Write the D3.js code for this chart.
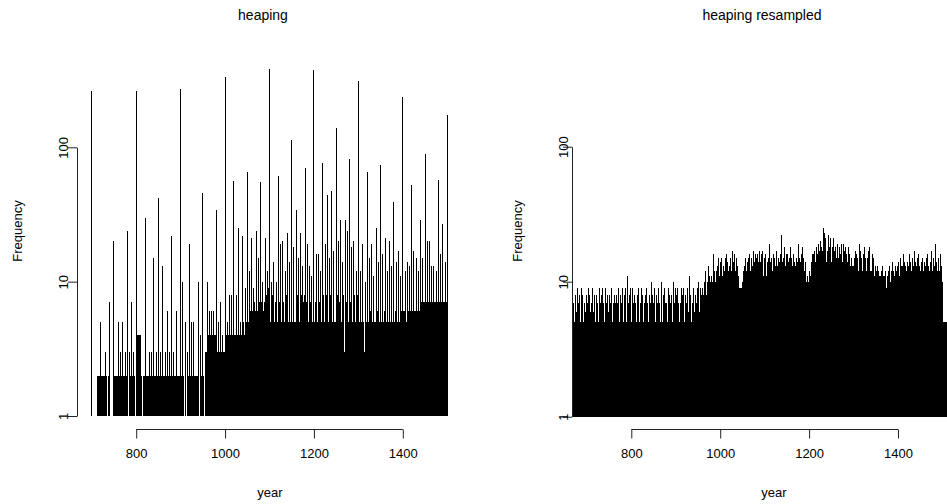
<!DOCTYPE html>
<html><head><meta charset="utf-8">
<script src="https://cdn.jsdelivr.net/npm/d3@7"></script>
<style>
html,body{margin:0;padding:0;background:#fff;}
text{font-family:"Liberation Sans",Arial,Helvetica,sans-serif;fill:#000;}
</style></head>
<body>
<svg id="chart" width="947" height="504"></svg>
<script>
// ---------------- DATA ----------------
const heapStartYear = 700;
const heapCounts = [
264,0,0,0,0,0,0,0,0,0,
0,0,2,2,1,1,2,2,0,2,
5,2,0,0,2,2,2,2,1,2,
3,2,2,2,2,1,1,2,2,2,
7,0,0,0,0,0,0,0,0,2,
20,2,2,2,1,1,2,2,2,2,
5,2,2,1,1,3,2,2,2,2,
5,2,2,2,1,3,2,1,1,2,
24,2,1,1,2,3,2,2,2,1,
7,1,2,2,2,3,2,2,1,1,
264,4,4,3,4,4,3,4,4,2,
4,2,2,2,1,1,2,2,2,2,
30,2,2,2,2,2,1,1,2,2,
3,2,2,1,1,3,2,2,2,1,
15,1,2,2,2,3,2,2,1,1,
42,2,2,1,1,3,2,2,2,2,
13,2,2,2,2,3,1,1,2,2,
6,2,2,1,1,3,2,2,2,1,
22,1,2,2,2,3,2,1,1,2,
6,2,2,2,1,1,2,2,2,2,
271,2,2,2,2,10,2,2,1,1,
5,2,2,1,1,3,2,2,2,2,
19,2,2,2,2,5,2,1,1,2,
5,2,2,2,1,1,2,2,2,2,
10,2,1,1,2,4,2,2,2,2,
46,2,2,1,1,3,2,3,3,3,
10,4,3,4,3,6,4,3,4,3,
6,4,3,4,3,6,4,3,4,4,
34,4,3,3,3,5,3,3,2,3,
7,3,2,3,3,4,3,2,3,3,
333,4,3,4,4,5,3,4,2,4,
8,4,3,4,5,8,4,3,4,4,
56,3,4,4,3,8,4,4,3,4,
25,4,4,3,5,5,4,4,3,5,
22,4,5,4,4,9,5,4,5,4,
66,5,4,5,5,12,5,6,5,6,
21,5,6,5,6,9,5,7,6,5,
24,6,5,6,6,15,6,5,7,6,
55,6,5,7,6,10,6,6,5,7,
21,7,8,6,8,12,7,9,8,7,
384,5,4,5,7,10,8,5,3,3,
14,4,5,4,7,10,8,5,4,5,
61,4,5,7,8,19,5,4,5,8,
20,7,5,4,5,12,4,7,8,4,
23,5,4,5,7,14,8,5,4,5,
113,5,4,7,8,18,4,5,4,5,
34,7,8,5,4,15,5,4,5,7,
23,8,5,4,5,13,4,7,8,5,
70,4,5,4,7,19,8,5,3,3,
13,5,4,7,8,11,4,5,4,5,
377,5,4,5,7,16,8,5,4,5,
16,4,5,7,8,12,5,4,5,4,
77,7,8,5,4,19,4,5,7,8,
44,5,4,5,4,15,7,8,5,4,
47,5,4,7,8,17,5,4,5,4,
139,7,8,5,4,20,5,4,7,8,
29,5,4,5,7,14,8,5,3,3,
29,4,5,4,7,24,8,5,4,5,
82,5,4,7,8,18,4,5,4,5,
20,7,8,5,4,12,5,4,7,8,
311,5,4,5,4,12,5,4,5,4,
19,4,5,3,3,10,5,4,5,4,
65,5,4,5,4,15,4,5,6,4,
19,4,5,4,5,11,5,4,5,4,
25,5,4,6,4,14,4,5,4,5,
74,4,5,4,5,16,5,4,6,4,
21,5,4,5,4,12,4,5,2,2,
20,4,5,4,5,13,5,4,5,4,
39,5,4,6,4,14,5,4,5,5,
17,4,5,4,5,11,5,4,6,5,
236,5,6,5,6,12,5,6,5,4,
14,5,6,5,4,13,6,5,6,5,
52,6,5,6,5,17,5,6,5,6,
15,5,6,5,6,12,6,5,6,6,
29,7,6,7,6,15,7,6,7,6,
89,6,7,6,7,20,6,7,6,7,
20,7,6,7,6,13,7,6,7,6,
13,6,7,6,7,12,6,7,6,7,
57,7,6,7,6,16,7,6,7,6,
27,6,7,6,7,14,6,7,6,7,
174
];

const resampledStartYear = 667;
const resampledCounts = [
5,4,6,
4,7,5,4,8,5,4,6,3,9,
5,4,7,5,8,4,5,9,4,6,
4,8,5,4,7,5,3,6,5,8,
5,7,4,5,9,4,5,8,4,6,
7,4,5,9,4,6,5,8,4,5,
5,8,4,7,4,6,5,4,9,5,
4,7,5,4,8,9,4,5,7,4,
5,4,9,5,4,7,5,8,4,6,
8,5,4,7,5,4,9,5,4,7,
5,4,8,5,7,4,6,8,5,4,
7,5,9,4,5,8,4,7,5,4,
6,9,5,4,8,5,4,7,9,5,
4,11,5,7,4,5,8,4,9,6,
5,4,9,5,7,4,5,8,5,4,
7,5,4,8,5,6,4,9,5,4,
7,4,5,9,4,5,8,5,4,7,
5,4,8,5,9,4,5,7,5,4,
8,5,4,7,5,10,4,5,8,5,
4,7,5,9,4,5,8,5,4,7,
5,9,4,5,7,5,4,8,5,10,
4,5,8,5,4,9,5,7,4,5,
7,4,5,9,5,4,8,5,7,4,
5,8,4,5,10,5,4,7,5,9,
4,5,8,5,9,4,5,7,5,4,
7,5,4,9,5,8,4,5,9,5,
4,8,5,3,3,7,5,9,4,6,
5,4,11,5,8,4,5,7,5,4,
9,5,4,6,8,5,7,4,9,5,
6,8,10,6,5,7,9,6,8,6,
7,9,6,8,10,7,6,9,12,7,
8,10,7,9,13,8,7,11,8,10,
9,11,8,10,9,16,9,12,8,9,
10,12,9,11,13,10,9,15,10,11,
10,14,11,10,15,11,10,13,12,10,
12,9,15,11,10,16,11,14,10,12,
13,10,11,15,10,12,10,17,11,13,
10,14,11,16,10,12,15,11,10,13,
12,11,10,9,8,7,9,7,8,9,
8,10,9,12,13,10,14,11,15,12,
11,14,10,15,11,13,10,16,11,12,
10,15,11,13,17,11,10,14,11,16,
12,10,15,10,13,16,11,14,10,17,
11,14,10,16,11,13,17,11,10,15,
13,10,12,16,11,10,14,13,11,15,
10,13,19,11,14,10,15,11,12,16,
11,14,10,15,11,13,11,17,12,10,
13,10,15,11,14,16,11,22,12,10,
10,14,11,15,18,12,10,13,10,16,
11,13,16,11,14,10,15,11,18,12,
10,15,10,13,11,16,12,10,14,10,
13,11,15,12,10,14,19,11,13,15,
11,14,10,16,11,13,18,11,15,12,
10,13,11,14,10,10,9,11,9,10,
10,12,10,11,9,13,14,12,16,13,
12,16,13,17,12,14,18,12,15,13,
16,12,19,13,17,12,20,14,13,18,
13,17,25,14,16,23,13,18,21,14,
13,17,14,22,13,18,15,13,17,21,
14,13,18,15,13,21,14,17,13,15,
18,13,15,19,13,16,15,13,18,14,
13,16,14,13,19,14,13,19,15,13,
17,13,14,18,13,16,14,13,18,14,
13,16,15,13,12,15,12,13,11,9,
11,13,15,11,17,12,11,16,12,11,
15,12,11,19,12,11,17,12,15,11,
12,11,16,12,11,18,12,11,15,12,
11,15,12,11,17,12,11,18,12,11,
12,11,16,12,11,15,12,10,11,13,
10,12,9,11,13,9,10,12,9,11,
9,11,12,9,10,13,9,11,8,11,
10,8,12,11,9,6,11,9,12,10,
9,11,13,9,10,12,9,14,10,9,
10,12,9,11,13,10,9,12,10,13,
10,12,14,10,11,15,10,13,11,10,
13,11,16,10,12,14,11,13,10,12,
11,14,10,13,11,12,16,11,14,10,
12,11,15,10,13,11,17,12,11,14,
11,13,10,15,11,12,11,16,13,11,
12,11,14,12,10,13,15,11,12,14,
11,13,10,15,11,12,16,11,13,10,
12,11,14,11,13,17,11,12,10,15,
11,13,10,12,19,11,14,13,11,12,
13,11,15,12,11,14,16,11,13,10,
5,4,5,4,5,4,5,4,5,4,
5
];

const yTicks = [1, 10, 100];
const xTicks = [800, 1000, 1200, 1400];
const titles = ["heaping", "heaping resampled"];
const xLabel = "year";
const yLabel = "Frequency";

// ---------------- DRAW ----------------
const svg = d3.select("#chart");

const panels = [
  {title: titles[0], start: heapStartYear, counts: heapCounts,
   x: d3.scaleLinear().domain([800, 1400]).range([136.2, 402.8]),
   y: d3.scaleLog().domain([1, 100]).range([416, 147.3]),
   axisX: 77, clipL: 77, clipR: 462, titleX: 263, xlabX: 270, ylabX: 17, tickLabX: 63},
  {title: titles[1], start: resampledStartYear, counts: resampledCounts,
   x: d3.scaleLinear().domain([800, 1400]).range([631.3, 898]),
   y: d3.scaleLog().domain([1, 100]).range([416.7, 146.7]),
   axisX: 572, clipL: 572, clipR: 947, titleX: 762, xlabX: 774, ylabX: 517, tickLabX: 563}
];

const defs = svg.append("defs");

panels.forEach((p, i) => {
  const data = p.counts.map((v, k) => ({year: p.start + k, value: v})).filter(d => d.value >= 1);
  defs.append("clipPath").attr("id", "clip" + i)
    .append("rect").attr("x", p.clipL).attr("y", 0).attr("width", p.clipR - p.clipL).attr("height", 504);

  const g = svg.append("g").attr("clip-path", `url(#clip${i})`)
    .attr("shape-rendering", "crispEdges");
  g.selectAll("rect").data(data).join("rect")
    .attr("x", d => p.x(d.year) - 0.5).attr("width", 1)
    .attr("y", d => p.y(d.value)).attr("height", d => p.y(1) - p.y(d.value))
    .attr("fill", "#000");

  // y axis
  const ya = svg.append("g").attr("transform", `translate(${p.axisX},0)`)
    .call(d3.axisLeft(p.y).tickValues(yTicks).tickFormat(d3.format("d")).tickSizeInner(9).tickSizeOuter(0));
  ya.selectAll("path,line").attr("stroke", "#222");
  ya.selectAll("text").remove();
  ya.selectAll(".tick").append("text")
    .attr("transform", `translate(${p.tickLabX - p.axisX},0) rotate(-90)`)
    .attr("text-anchor", "middle").attr("dy", "0.35em")
    .style("font-size", "13px").text(d => d3.format("d")(d));

  // x axis
  const xa = svg.append("g").attr("transform", `translate(0,429.5)`)
    .call(d3.axisBottom(p.x).tickValues(xTicks).tickSizeInner(9).tickSizeOuter(0).tickFormat(d3.format("d")));
  xa.select(".domain").attr("d", `M${p.x(xTicks[0])},0H${p.x(xTicks[xTicks.length-1])}`);
  xa.selectAll("path,line").attr("stroke", "#222");
  xa.selectAll("text").attr("y", 24).attr("dy", "0.35em").style("font-size", "13px").style("font-family", null);

  svg.append("text").attr("x", p.titleX).attr("y", 20).attr("text-anchor", "middle")
    .style("font-size", "14px").text(p.title);
  svg.append("text").attr("x", p.xlabX).attr("y", 497).attr("text-anchor", "middle")
    .style("font-size", "13px").text(xLabel);
  svg.append("text").attr("transform", `translate(${p.ylabX},231) rotate(-90)`)
    .attr("text-anchor", "middle").attr("dy", "0.35em")
    .style("font-size", "13px").text(yLabel);
});
</script>
</body></html>
